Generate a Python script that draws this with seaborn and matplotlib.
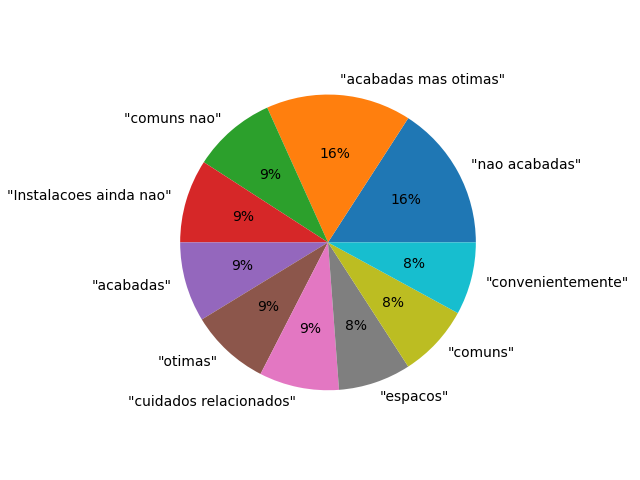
import matplotlib
matplotlib.use("Agg")
import matplotlib.pyplot as plt
import seaborn as sns

# rótulos e contagens das fatias
rotulos = ['"nao acabadas"', '"acabadas mas otimas"', '"comuns nao"',
           '"Instalacoes ainda nao"', '"acabadas"', '"otimas"',
           '"cuidados relacionados"', '"espacos"', '"comuns"',
           '"convenientemente"']
contagens = [40, 40, 23, 23, 22, 22, 22, 20, 20, 20]

cores = sns.color_palette("tab10", len(contagens))

fig, ax = plt.subplots(figsize=(6.4, 4.8), dpi=100)
ax.pie(contagens, labels=rotulos, autopct='%1.0f%%', colors=cores)

plt.savefig("out.png")
